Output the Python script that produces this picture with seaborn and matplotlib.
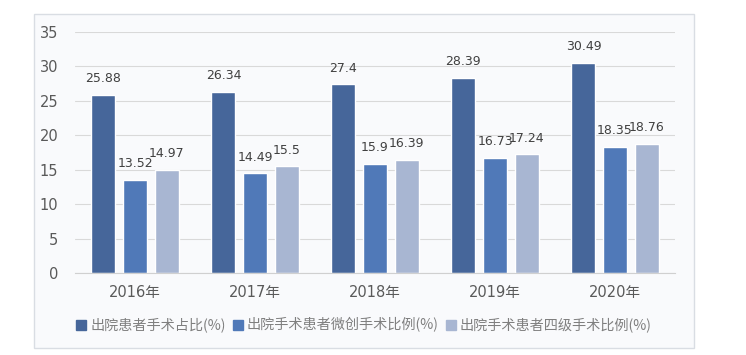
import seaborn as sns
import matplotlib.pyplot as plt
import matplotlib.patches as mpatches
import pandas as pd

years = ["2016年", "2017年", "2018年", "2019年", "2020年"]
series_names = ["出院患者手术占比(%)", "出院手术患者微创手术比例(%)", "出院手术患者四级手术比例(%)"]
surgery_share = [25.88, 26.34, 27.4, 28.39, 30.49]
minimally_invasive = [13.52, 14.49, 15.9, 16.73, 18.35]
level_four = [14.97, 15.5, 16.39, 17.24, 18.76]
colors = ["#46669a", "#5079b8", "#a8b6d2"]

rows = []
for name, vals in zip(series_names, [surgery_share, minimally_invasive, level_four]):
    for y, v in zip(years, vals):
        rows.append({"year": y, "series": name, "value": v})
df = pd.DataFrame(rows)

sns.set_style("white")
plt.rcParams['font.family'] = ['DejaVu Sans', 'Noto Sans CJK SC']

fig = plt.figure(figsize=(7.46, 3.55), dpi=100)
# outer frame of the chart
fig.patches.append(mpatches.Rectangle((34 / 746, 1 - 348 / 355), 660 / 746, 334 / 355,
                                      transform=fig.transFigure, facecolor="#f9fafc",
                                      edgecolor="#d9dde3", linewidth=1, zorder=-5))
ax = fig.add_axes([75 / 746, 1 - 273 / 355, 600 / 746, 241 / 355])
ax.set_zorder(2)
ax.set_facecolor("none")

sns.barplot(data=df, x="year", y="value", hue="series", palette=colors,
            width=0.79, gap=0.24, ax=ax, legend=False, saturation=1)

for cont in ax.containers:
    ax.bar_label(cont, labels=[f"{v:g}" for v in cont.datavalues], padding=7,
                 fontsize=9, color="#404040")

ax.set_ylim(0, 35)
ax.set_yticks(range(0, 36, 5))
ax.grid(axis="y", color="#d9d9d9", linewidth=0.8)
ax.set_axisbelow(True)
for s in ["top", "right", "left"]:
    ax.spines[s].set_visible(False)
ax.spines["bottom"].set_color("#d0d0d0")
ax.tick_params(axis="both", length=0, labelsize=10.5, labelcolor="#595959")
ax.tick_params(axis="x", pad=9)
ax.tick_params(axis="y", pad=12)
ax.set_xlabel("")
ax.set_ylabel("")
ax.set_xlim(-0.5, 4.5)

handles = [mpatches.Patch(color=c, label=n) for c, n in zip(colors, series_names)]
fig.legend(handles=handles, loc="center", bbox_to_anchor=(364 / 746, 1 - 325 / 355), ncol=3,
           frameon=False, handlelength=0.7, handleheight=0.7,
           handletextpad=0.3, columnspacing=0.5, labelcolor="#7f7f7f",
           prop={"family": ["Noto Sans CJK SC", "DejaVu Sans"], "size": 10.2})

fig.savefig("out.png", dpi=100)
